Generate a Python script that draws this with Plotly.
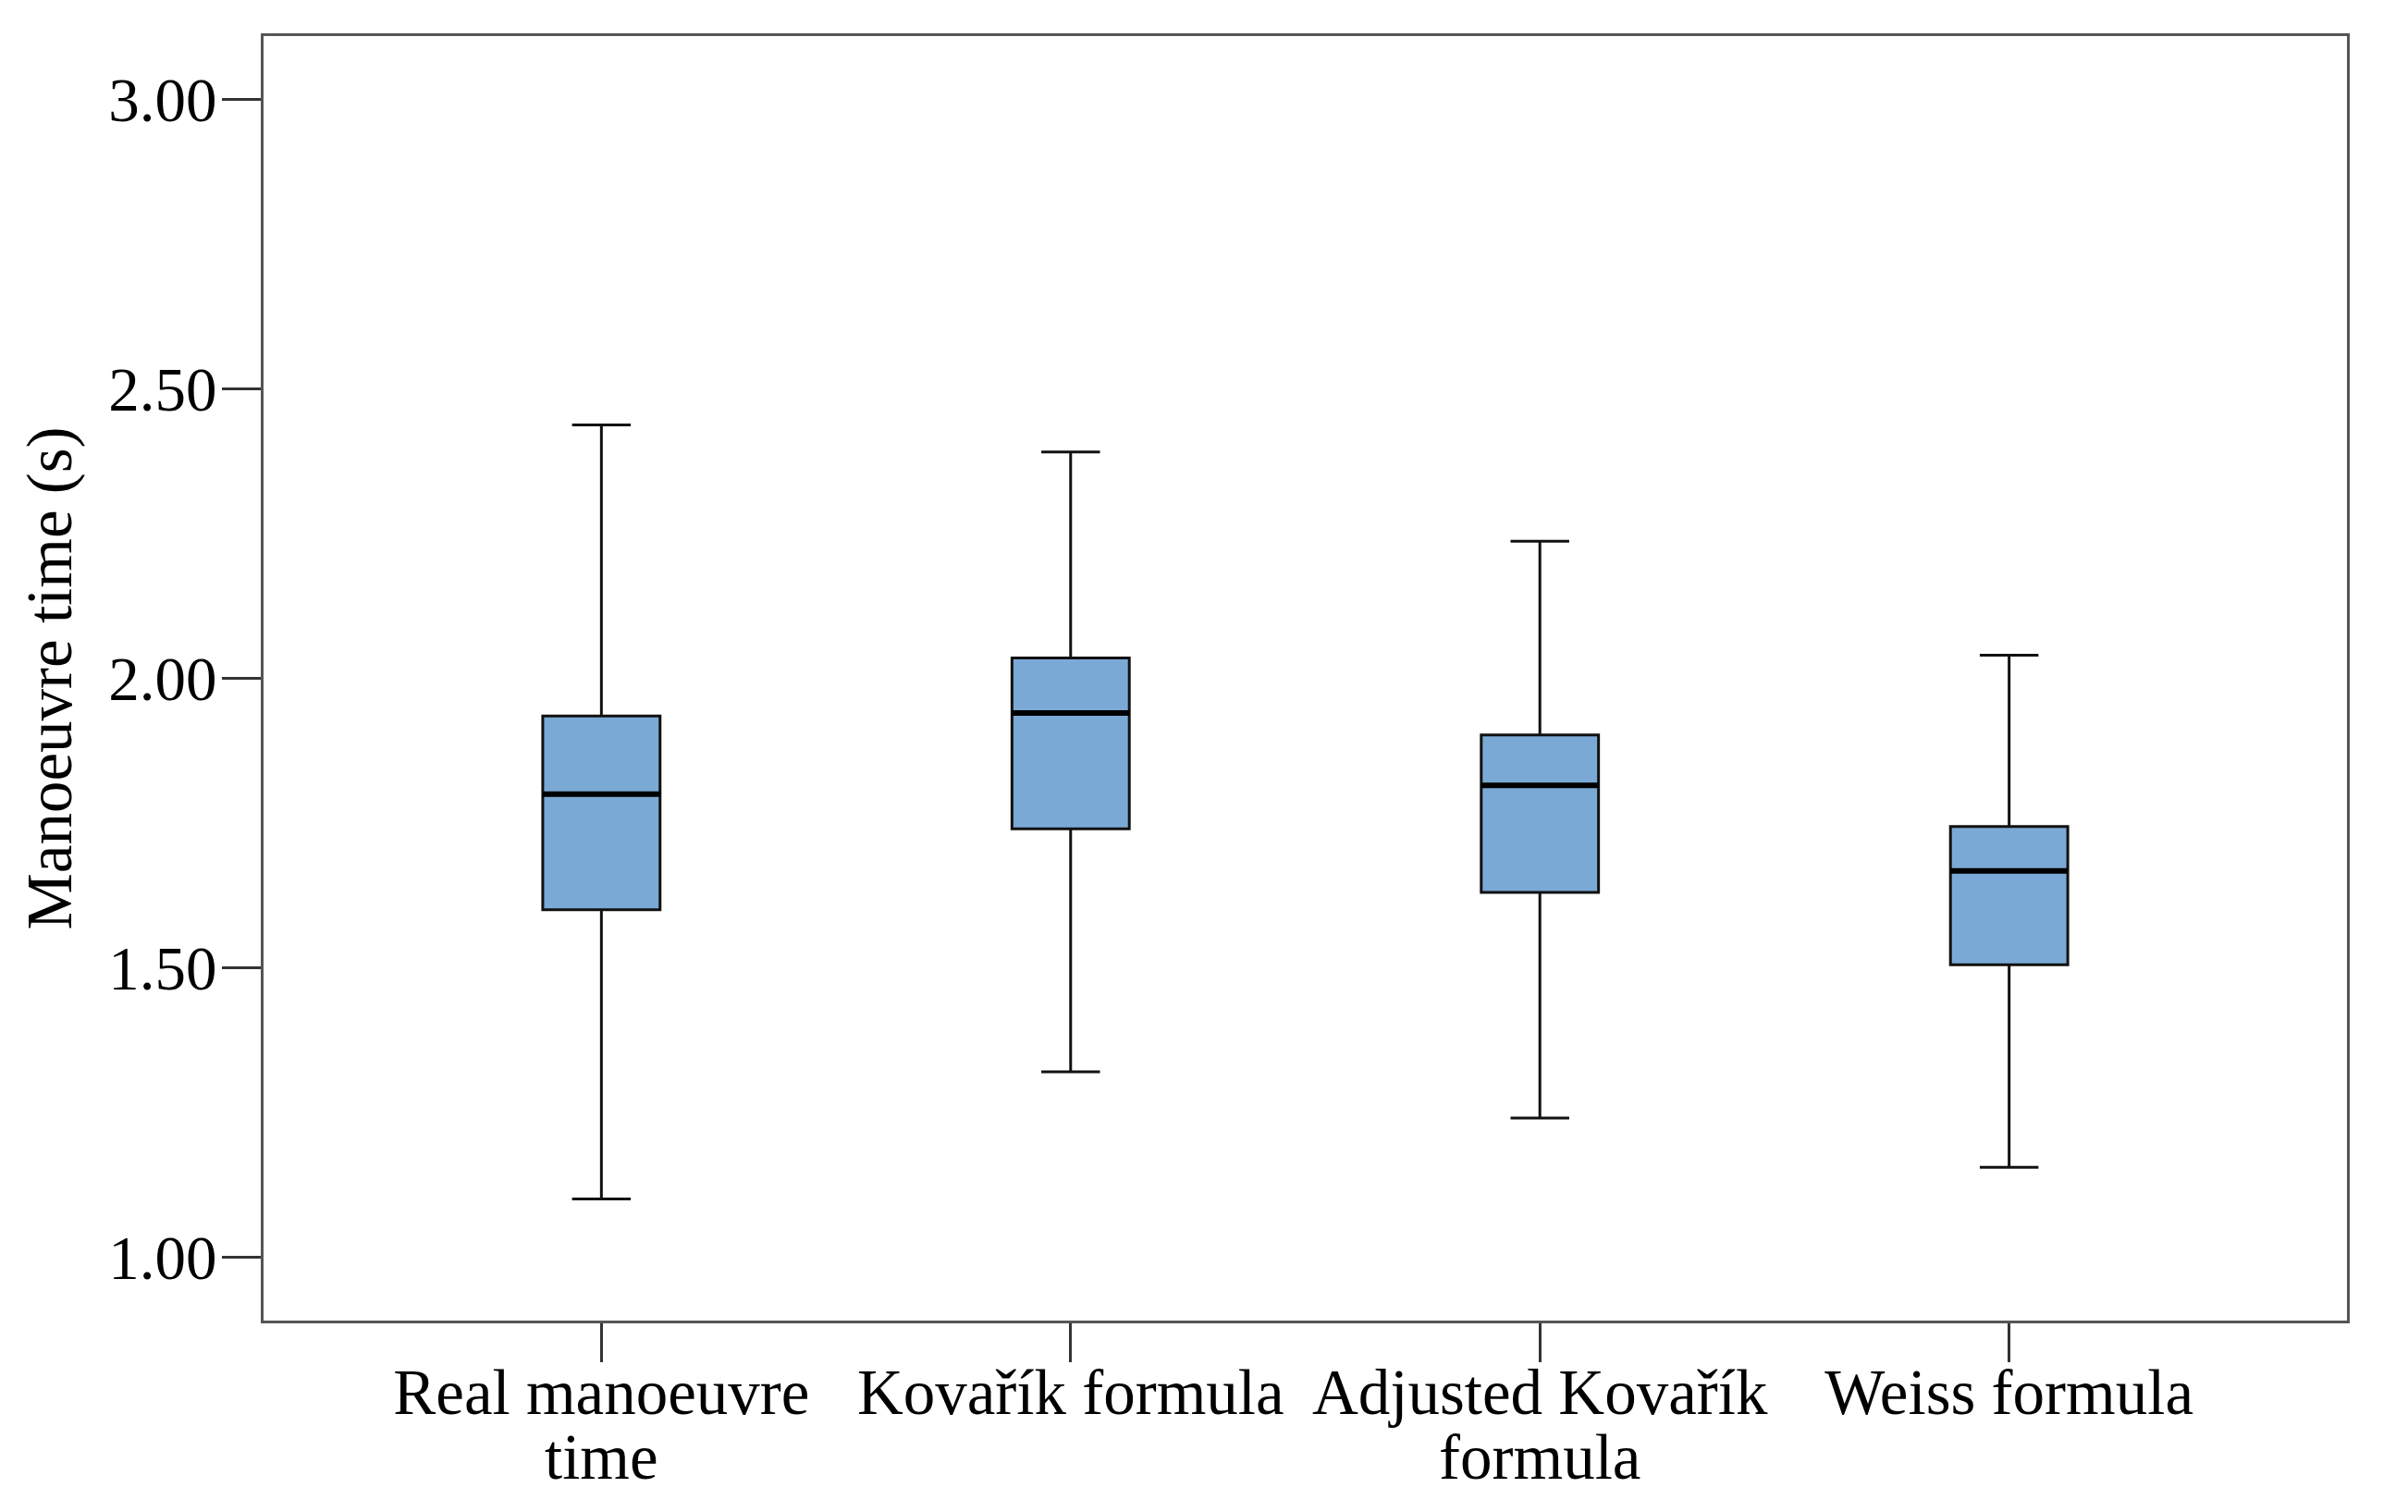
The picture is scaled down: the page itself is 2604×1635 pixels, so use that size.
import plotly.graph_objects as go

# ---- data ----
categories_line1 = ["Real manoeuvre", "Kovařík formula", "Adjusted Kovařík", "Weiss formula"]
categories_line2 = ["time", "", "formula", ""]
lower_whisker = [1.10, 1.32, 1.24, 1.155]
q1_values = [1.60, 1.74, 1.63, 1.505]
median_values = [1.80, 1.94, 1.815, 1.667]
q3_values = [1.935, 2.035, 1.902, 1.744]
upper_whisker = [2.438, 2.391, 2.237, 2.040]
y_tick_values = [1.00, 1.50, 2.00, 2.50, 3.00]
y_tick_labels = ["1.00", "1.50", "2.00", "2.50", "3.00"]

positions = list(range(len(categories_line1)))
BOX_WIDTH = 0.25
FONT = "Liberation Serif"
FS_Y = 67
FS_X = 69

fig = go.Figure()
fig.add_trace(go.Box(
    x=positions,
    q1=q1_values,
    median=median_values,
    q3=q3_values,
    lowerfence=lower_whisker,
    upperfence=upper_whisker,
    width=BOX_WIDTH,
    whiskerwidth=0.5,
    fillcolor="#7BA9D5",
    line=dict(color="#111111", width=3),
    boxpoints=False,
    showlegend=False,
    hoverinfo="skip",
))

# thicker median lines, as in the reference
for p, m in zip(positions, median_values):
    fig.add_shape(type="line", xref="x", yref="y",
                  x0=p - BOX_WIDTH / 2, x1=p + BOX_WIDTH / 2, y0=m, y1=m,
                  line=dict(color="black", width=6), layer="above")

# second lines of the category labels
for p, t in zip(positions, categories_line2):
    if t:
        fig.add_annotation(x=p, xref="x", y=0, yref="paper", text=t,
                           showarrow=False, yanchor="top", yshift=-108,
                           font=dict(family=FONT, size=FS_X, color="black"))

fig.update_layout(
    width=2604, height=1635,
    margin=dict(l=277, r=74, t=31, b=215),
    paper_bgcolor="white", plot_bgcolor="white",
    font=dict(family=FONT, size=FS_Y, color="black"),
)
fig.update_xaxes(
    range=[-0.72, 3.72],
    tickvals=positions, ticktext=categories_line1,
    ticks="outside", ticklen=42, tickwidth=2.5, tickcolor="#333333",
    ticklabelstandoff=-27,
    showline=True, linecolor="#555555", linewidth=3, mirror=True,
    showgrid=False, zeroline=False,
    tickfont=dict(family=FONT, size=FS_X, color="black"),
)
fig.update_yaxes(
    range=[0.89, 3.11],
    tickvals=y_tick_values, ticktext=y_tick_labels,
    ticks="outside", ticklen=42, tickwidth=2.5, tickcolor="#333333",
    ticklabelstandoff=-8,
    showline=True, linecolor="#555555", linewidth=3, mirror=True,
    showgrid=False, zeroline=False,
    tickfont=dict(family=FONT, size=FS_Y, color="black"),
    title=dict(text="Manoeuvre time (s)", standoff=18,
               font=dict(family=FONT, size=FS_X, color="black")),
)

fig.write_html("out.html")
